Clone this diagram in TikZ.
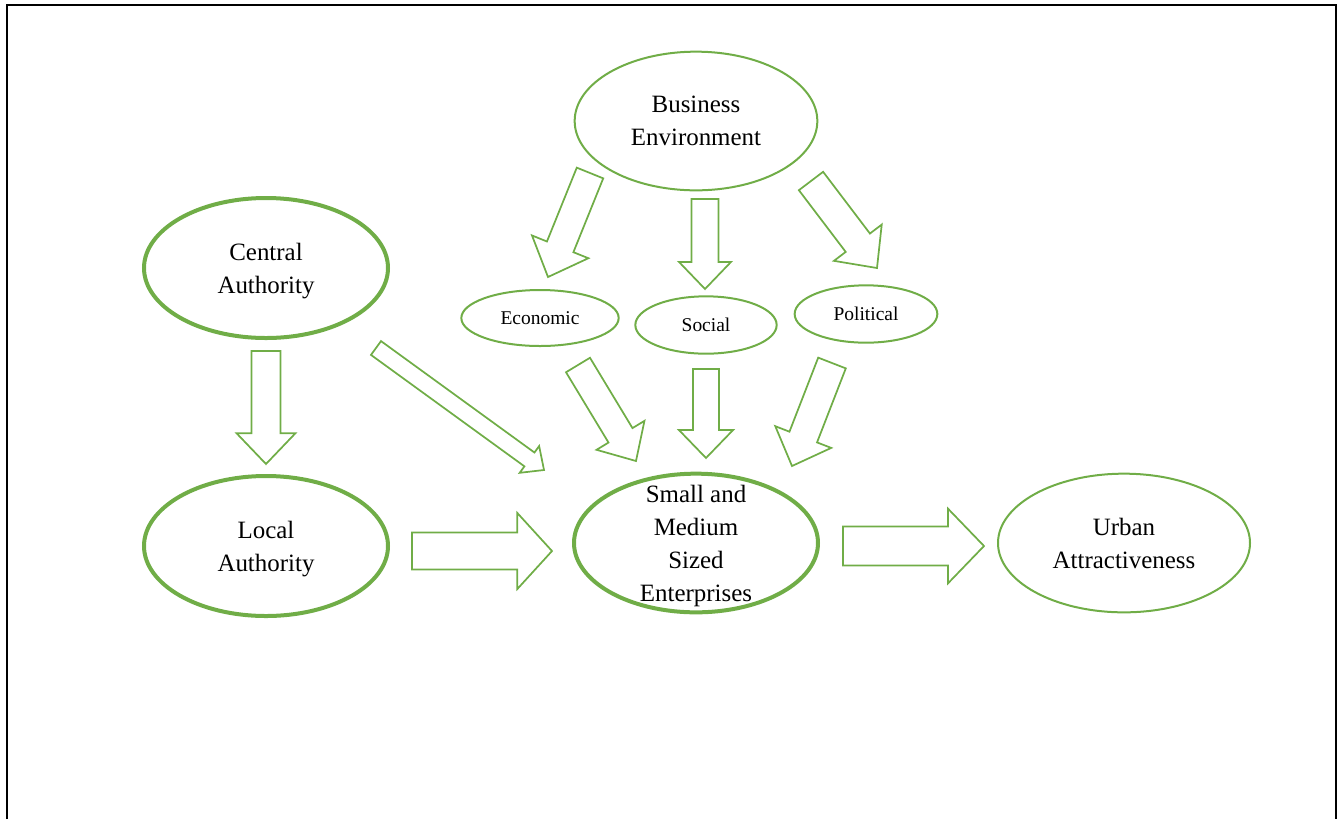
\documentclass[tikz,border=0pt]{standalone}
\usepackage{fontspec}
\setmainfont{Liberation Serif}
\usetikzlibrary{shapes.geometric,calc}
\definecolor{officegreen}{RGB}{112,173,71}

% hollow block arrow: start, tip, half shaft, half head, head length
\newcommand{\blockarrow}[5]{%
  \draw[blockarr] ($(#1)!#3!90:(#2)$)
    -- ($(#2)!#5!(#1)!#3!-90:(#1)$)
    -- ($(#2)!#5!(#1)!#4!-90:(#1)$)
    -- (#2)
    -- ($(#2)!#5!(#1)!#4!90:(#1)$)
    -- ($(#2)!#5!(#1)!#3!90:(#1)$)
    -- ($(#1)!#3!-90:(#2)$) -- cycle;}

\begin{document}
\begin{tikzpicture}[x=0.75pt, y=-0.75pt,
       bigell/.style={ellipse, draw=officegreen, line width=1.5pt, inner sep=0pt,
             text depth=-2pt, align=center, font=\fontsize{18.7}{24.75}\selectfont},
       thickell/.style={bigell, line width=3pt},
       smallell/.style={ellipse, draw=officegreen, line width=1.5pt, inner sep=0pt,
             align=center, font=\fontsize{14.6}{18}\selectfont},
       blockarr/.style={draw=officegreen, line width=1.3pt, line join=miter}]
\useasboundingbox (0,0) rectangle (1343,819);
\draw[line width=1.2pt] (7,819) -- (7,5) -- (1336,5) -- (1336,819);

\node[bigell, minimum width=182pt, minimum height=104pt] (be) at (696,121) {Business\\Environment};
\node[thickell, minimum width=183pt, minimum height=105pt] (ca) at (266,268) {Central\\Authority};
\node[thickell, minimum width=183pt, minimum height=105pt] (la) at (266,546) {Local\\Authority};
\node[thickell, inner ysep=-7pt, minimum width=183pt, minimum height=104pt] (sme) at (696,543) {Small and\\Medium\\Sized\\Enterprises};
\node[bigell, minimum width=189pt, minimum height=104pt] (ua) at (1124,543) {Urban\\Attractiveness};
\node[smallell, minimum width=118pt, minimum height=42pt] (ec) at (540,318) {Economic};
\node[smallell, minimum width=106pt, minimum height=43pt] (so) at (706,325) {Social};
\node[smallell, minimum width=107pt, minimum height=43pt] (po) at (866,314) {Political};

% arrow ends
\coordinate (ca-la-s) at (266,351);  \coordinate (ca-la-t) at (266,464);
\coordinate (ca-sme-s) at (376,348); \coordinate (ca-sme-t) at (544,470);
\coordinate (la-sme-s) at (412,551); \coordinate (la-sme-t) at (552,551);
\coordinate (sme-ua-s) at (843,546); \coordinate (sme-ua-t) at (984,546);
\coordinate (be-ec-s) at (590,173);  \coordinate (be-ec-t) at (548,277);
\coordinate (be-so-s) at (705,199);  \coordinate (be-so-t) at (705,289);
\coordinate (be-po-s) at (811,181);  \coordinate (be-po-t) at (877,268);
\coordinate (ec-sme-s) at (578,365); \coordinate (ec-sme-t) at (636,461);
\coordinate (so-sme-s) at (706,369); \coordinate (so-sme-t) at (706,458);
\coordinate (po-sme-s) at (832,363); \coordinate (po-sme-t) at (792,466);

\blockarrow{ca-la-s}{ca-la-t}{10.9pt}{22pt}{23pt}
\blockarrow{ca-sme-s}{ca-sme-t}{6.4pt}{12.4pt}{13.5pt}
\blockarrow{la-sme-s}{la-sme-t}{13.9pt}{28.5pt}{26pt}
\blockarrow{sme-ua-s}{sme-ua-t}{14.6pt}{28pt}{27pt}
\blockarrow{be-ec-s}{be-ec-t}{10.7pt}{22.8pt}{24.4pt}
\blockarrow{be-so-s}{be-so-t}{10.1pt}{19.5pt}{20.3pt}
\blockarrow{be-po-s}{be-po-t}{11.4pt}{22.5pt}{23.8pt}
\blockarrow{ec-sme-s}{ec-sme-t}{10.5pt}{21pt}{22.5pt}
\blockarrow{so-sme-s}{so-sme-t}{9.8pt}{20.3pt}{21pt}
\blockarrow{po-sme-s}{po-sme-t}{11.1pt}{22.5pt}{23.3pt}
\end{tikzpicture}
\end{document}
